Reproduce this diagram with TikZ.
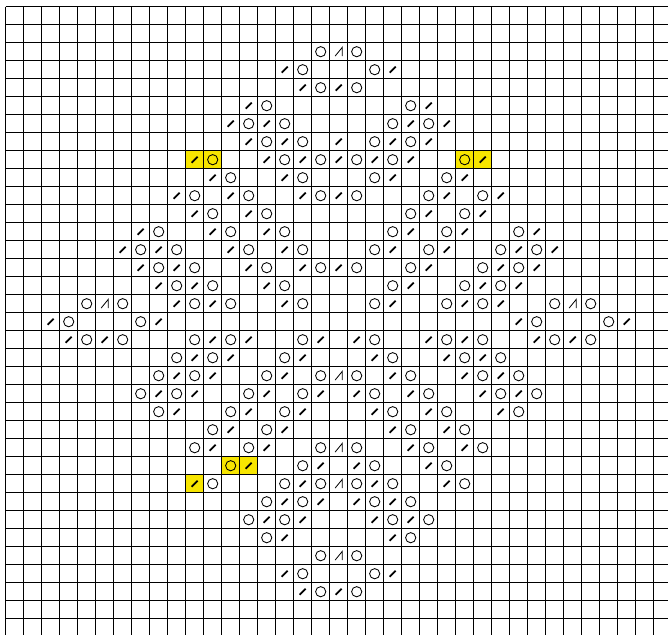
\documentclass[tikz,border=0pt]{standalone}
\definecolor{hl}{RGB}{247,229,0}
\tikzset{
  gridline/.style={line width=1pt, black},
  yo/.style={line width=0.85pt, black},
  kdec/.style={line width=1.7pt, black},
  sktog/.style={line width=0.8pt, black, line join=miter},
  hlcell/.style={fill=hl, draw=none}
}
\begin{document}
\begin{tikzpicture}[x=1pt,y=-1pt]
\useasboundingbox (0,0) rectangle (668,635);
\fill[white] (0,0) rectangle (668,635);
% highlighted cells (row/col)
\foreach \r/\c in {8/10,8/11,8/25,8/26,25/12,25/13,26/10}
  \fill[hlcell] ({5.7+18*\c},{6.7+18*\r}) rectangle ++(18,18);
% grid
\foreach \k in {0,...,36}
  \draw[gridline] ({5.7+18*\k},6.7) -- ({5.7+18*\k},635);
\foreach \k in {0,...,34}
  \draw[gridline] (5.7,{6.7+18*\k}) -- (668,{6.7+18*\k});
% yarn overs (circles)
\foreach \r/\cols in {
  2/{17,19}, 3/{16,20}, 4/{17,19}, 5/{14,22}, 6/{13,15,21,23},
  7/{14,16,20,22}, 8/{11,15,17,19,21,25}, 9/{12,16,20,24},
  10/{10,13,17,19,23,26}, 11/{11,14,22,25}, 12/{8,12,15,21,24,28},
  13/{7,9,13,16,20,23,27,29}, 14/{8,10,14,17,19,22,26,28},
  15/{9,11,15,21,25,27}, 16/{4,6,10,12,16,20,24,26,30,32},
  17/{3,7,29,33}, 18/{4,6,10,12,16,20,24,26,30,32},
  19/{9,11,15,21,25,27}, 20/{8,10,14,17,19,22,26,28},
  21/{7,9,13,16,20,23,27,29}, 22/{8,12,15,21,24,28},
  23/{11,14,22,25}, 24/{10,13,17,19,23,26}, 25/{12,16,20,24},
  26/{11,15,17,19,21,25}, 27/{14,16,20,22}, 28/{13,15,21,23},
  29/{14,22}, 30/{17,19}, 31/{16,20}, 32/{17,19}}
  \foreach \c in \cols
    \draw[yo] ({14.7+18*\c},{15.7+18*\r}) circle (5.1);
% decreases (slashes)
\foreach \r/\cols in {
  3/{15,21}, 4/{16,18}, 5/{13,23}, 6/{12,14,22,24},
  7/{13,15,18,21,23}, 8/{10,14,16,18,20,22,26}, 9/{11,15,21,25},
  10/{9,12,16,18,24,27}, 11/{10,13,23,26}, 12/{7,11,14,22,25,29},
  13/{6,8,12,15,21,24,28,30}, 14/{7,9,13,16,18,23,27,29},
  15/{8,10,14,22,26,28}, 16/{9,11,15,21,25,27}, 17/{2,8,28,34},
  18/{3,5,11,13,17,19,23,25,29,31}, 19/{10,12,16,20,24,26},
  20/{9,11,15,21,25,27}, 21/{8,10,14,17,19,22,26,28},
  22/{9,13,16,20,23,27}, 23/{12,15,21,24}, 24/{11,14,22,25},
  25/{13,17,19,23}, 26/{10,16,20,24}, 27/{15,17,19,21},
  28/{14,16,20,22}, 29/{15,21}, 31/{15,21}, 32/{16,18}}
  \foreach \c in \cols
    \draw[kdec] ({14.7+18*\c-3},{15.7+18*\r+3}) -- ++(6,-6);
% double decreases
\foreach \r/\c in {2/18,16/5,16/31,20/18,24/18,26/18,30/18}
  \draw[sktog] ({14.7+18*\c-3.6},{15.7+18*\r+4.4}) -- ++(7.2,-8.8) -- ++(0,8.8);
\end{tikzpicture}
\end{document}
